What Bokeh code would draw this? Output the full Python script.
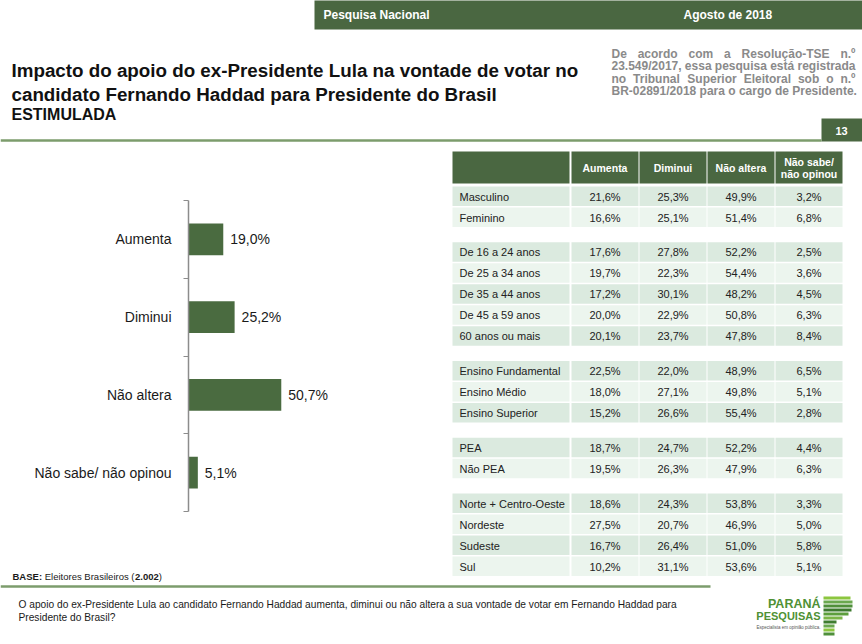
from bokeh.plotting import figure
from bokeh.layouts import column, row
from bokeh.models import Range1d, FixedTicker
from bokeh.core.properties import value
from bokeh.embed import file_html
from bokeh.resources import INLINE

# ---------------- data ----------------
header_left = "Pesquisa Nacional"
header_right = "Agosto de 2018"
title_lines = ["Impacto do apoio do ex-Presidente Lula na vontade de votar no",
               "candidato Fernando Haddad para Presidente do Brasil"]
subtitle = "ESTIMULADA"
note_lines = ["De acordo com a Resolução-TSE n.º",
              "23.549/2017, essa pesquisa está registrada",
              "no Tribunal Superior Eleitoral sob o n.º",
              "BR-02891/2018 para o cargo de Presidente."]
page_number = "13"

bar_categories = ["Aumenta", "Diminui", "Não altera", "Não sabe/ não opinou"]
bar_values = [19.0, 25.2, 50.7, 5.1]

table_headers = ["Aumenta", "Diminui", "Não altera", "Não sabe/\nnão opinou"]
segments = ["Masculino", "Feminino",
            "De 16 a 24 anos", "De 25 a 34 anos", "De 35 a 44 anos", "De 45 a 59 anos", "60 anos ou mais",
            "Ensino Fundamental", "Ensino Médio", "Ensino Superior",
            "PEA", "Não PEA",
            "Norte + Centro-Oeste", "Nordeste", "Sudeste", "Sul"]
segment_group = [0, 0, 1, 1, 1, 1, 1, 2, 2, 2, 3, 3, 4, 4, 4, 4]
aumenta = [21.6, 16.6, 17.6, 19.7, 17.2, 20.0, 20.1, 22.5, 18.0, 15.2, 18.7, 19.5, 18.6, 27.5, 16.7, 10.2]
diminui = [25.3, 25.1, 27.8, 22.3, 30.1, 22.9, 23.7, 22.0, 27.1, 26.6, 24.7, 26.3, 24.3, 20.7, 26.4, 31.1]
nao_altera = [49.9, 51.4, 52.2, 54.4, 48.2, 50.8, 47.8, 48.9, 49.8, 55.4, 52.2, 47.9, 53.8, 46.9, 51.0, 53.6]
nao_sabe = [3.2, 6.8, 2.5, 3.6, 4.5, 6.3, 8.4, 6.5, 5.1, 2.8, 4.4, 6.3, 3.3, 5.0, 5.8, 5.1]

base_label = "BASE:"
base_text = "Eleitores Brasileiros ("
base_n = "2.002"
base_close = ")"
question_lines = ["O apoio do ex-Presidente Lula ao candidato Fernando Haddad aumenta, diminui ou não altera a sua vontade de votar em Fernando Haddad para",
                  "Presidente do Brasil?"]
logo_lines = ["PARANÁ", "PESQUISAS"]
logo_tagline = "Especialista em opinião pública."

# ---------------- style ----------------
FONT = "Liberation Sans"
GREEN = "#4a6741"
BAR_GREEN = "#4a6b40"
LINE_GREEN = "#7c9c6c"
ROW_DARK = "#dbeadf"
ROW_LIGHT = "#ecf5ee"
TXT = "#1a1a1a"


def pct(v):
    return f"{v:.1f}%".replace(".", ",")


BOLD = {' ': 278, '(': 333, ')': 333, ',': 278, '-': 333, '.': 278, '/': 278, ':': 333, 'º': 365}
for d in "0123456789":
    BOLD[d] = 556
BOLD.update(dict(A=722, B=722, D=722, E=667, I=278, L=611, M=833, N=722, P=667, R=722, S=667, T=611,
                 U=722, a=556, b=611, c=556, d=611, e=556, g=611, i=278, l=278, m=889, n=611, o=611,
                 p=611, q=611, r=389, s=556, t=333, u=611, v=556, x=556))
BOLD.update({'ã': 556, 'á': 556, 'ç': 556})


def bold_width(s, size):
    return sum(BOLD.get(ch, 556) for ch in s) * size / 1000.0


def make_fig(w, h, x0, x1, y0, y1):
    p = figure(width=w, height=h, x_range=Range1d(x0, x1), y_range=Range1d(y1, y0),
               x_axis_type=None, y_axis_type=None, toolbar_location=None,
               output_backend="svg", min_border=0, outline_line_color=None)
    p.background_fill_color = "white"
    p.border_fill_color = "white"
    return p


def txt(p, xs, ys, texts, size, bold=False, color=TXT, align="left", baseline="middle", font=FONT):
    p.text(x=xs, y=ys, text=texts, text_font=value(font), text_font_size=f"{size}px",
           text_font_style="bold" if bold else "normal", text_color=color,
           text_align=align, text_baseline=baseline)


# ---------------- top section (page y 0..148) ----------------
top = make_fig(862, 148, 0, 862, 0, 148)
top.quad(left=[314], right=[870], top=[-5], bottom=[29], fill_color=GREEN, line_color=None)
txt(top, [323], [14], [header_left], 12, bold=True, color="white")
txt(top, [683], [14], [header_right], 12, bold=True, color="white")

txt(top, [11, 11], [70, 94], title_lines, 18.8, bold=True, color="#111111")
txt(top, [11], [114], [subtitle], 16, bold=True, color="#111111")

# justified note
NX0, NX1, NSIZE = 611, 855, 12
nxs, nys, nts = [], [], []
for li, line in enumerate(note_lines):
    words = line.split(" ")
    y = 53 + li * 12.5
    if li < len(note_lines) - 1 and len(words) > 1:
        tot = sum(bold_width(w_, NSIZE) for w_ in words)
        gap = (NX1 - NX0 - tot) / (len(words) - 1)
        x = NX0
        for w_ in words:
            nxs.append(x); nys.append(y); nts.append(w_)
            x += bold_width(w_, NSIZE) + gap
    else:
        nxs.append(NX0); nys.append(y); nts.append(line)
txt(top, nxs, nys, nts, NSIZE, bold=True, color="#8a8a8a")

top.quad(left=[821], right=[870], top=[118], bottom=[141], fill_color=GREEN, line_color=None)
txt(top, [841], [130], [page_number], 11, bold=True, color="white", align="center")
top.segment(x0=[0], y0=[140], x1=[821], y1=[140], line_color=LINE_GREEN, line_width=2.5)

# ---------------- bar chart (page x 0..440, y 148..584) ----------------
MID_TOP, MID_BOTTOM, LEFT_W = 148, 584, 440
AX_X, AX_TOP, AX_BOTTOM = 188, 200, 511          # axis position in page pixels
PX_PER_PCT = 1.83
n_cat = len(bar_categories)
PX_PER_CAT = (AX_BOTTOM - AX_TOP) / n_cat
x_lo = -AX_X / PX_PER_PCT
x_hi = (LEFT_W - AX_X) / PX_PER_PCT
cat_top = 0.5 - (AX_TOP - MID_TOP) / PX_PER_CAT
cat_bottom = n_cat + 0.5 + (MID_BOTTOM - AX_BOTTOM) / PX_PER_CAT

ys = list(range(1, n_cat + 1))
bar_fig = figure(width=LEFT_W, height=MID_BOTTOM - MID_TOP,
                 x_range=Range1d(x_lo, x_hi), y_range=Range1d(cat_bottom, cat_top),
                 x_axis_type=None, toolbar_location=None, output_backend="svg",
                 min_border=0, outline_line_color=None)
bar_fig.grid.visible = False
bar_fig.background_fill_color = "white"
bar_fig.border_fill_color = "white"
bar_fig.hbar(y=ys, left=0, right=bar_values, height=0.41, fill_color=BAR_GREEN, line_color=None)
bar_fig.text(x=bar_values, y=ys, text=[pct(v) for v in bar_values], x_offset=7,
             text_font=value(FONT), text_font_size="14px", text_color=TXT,
             text_align="left", text_baseline="middle")
yax = bar_fig.yaxis[0]
yax.fixed_location = 0
yax.bounds = (0.5, n_cat + 0.5)
yax.ticker = FixedTicker(ticks=ys, minor_ticks=[y - 0.5 for y in ys] + [ys[-1] + 0.5])
yax.major_label_overrides = {y: c for y, c in zip(ys, bar_categories)}
yax.major_tick_line_color = None
yax.major_tick_in = 0
yax.major_tick_out = 0
yax.minor_tick_line_color = "#8c8c8c"
yax.minor_tick_in = 0
yax.minor_tick_out = 5
yax.axis_line_color = "#8c8c8c"
yax.axis_line_width = 1.5
yax.major_label_standoff = 12
yax.major_label_text_font = FONT
yax.major_label_text_font_size = "14px"
yax.major_label_text_color = TXT


def to_data(px, py):
    return x_lo + px / PX_PER_PCT, cat_top + (py - MID_TOP) / PX_PER_CAT


BASE_Y = 576
BASE_SIZE = 9.5
JOIN_X = 134       # where "(" ends and the bold count starts
for px, t, b, al in [(12, base_label, True, "left"),
                     (JOIN_X, base_text, False, "right"),
                     (JOIN_X + 0.5, base_n, True, "left"),
                     (JOIN_X + 0.5 + bold_width(base_n, BASE_SIZE), base_close, False, "left")]:
    dx, dy = to_data(px, BASE_Y)
    txt(bar_fig, [dx], [dy], [t], BASE_SIZE, bold=b, align=al)

# ---------------- table (page x 440..862, y 148..584) ----------------
tab = make_fig(862 - LEFT_W, MID_BOTTOM - MID_TOP, LEFT_W, 862, MID_TOP, MID_BOTTOM)
col_l = [452, 571, 639, 707, 775]
col_r = [569, 638, 706, 774, 842]
tab.quad(left=col_l, right=col_r, top=[151] * 5, bottom=[183] * 5, fill_color=GREEN, line_color=None)
hx, hy, ht = [], [], []
for i, h in enumerate(table_headers):
    cx = (col_l[i + 1] + col_r[i + 1]) / 2
    parts = h.split("\n")
    for k, part in enumerate(parts):
        hx.append(cx)
        hy.append(167 + (k - (len(parts) - 1) / 2) * 12)
        ht.append(part)
txt(tab, hx, hy, ht, 10.5, bold=True, color="white", align="center")

ql, qr, qt, qb, qc = [], [], [], [], []
lx, ly, lt = [], [], []
vx, vy, vt = [], [], []
prev_g, k_in_group = -1, 0
for r, seg in enumerate(segments):
    g = segment_group[r]
    k_in_group = k_in_group + 1 if g == prev_g else 0
    prev_g = g
    y_top = 186 + r * 21 + g * 13.75
    fill = ROW_DARK if k_in_group % 2 == 0 else ROW_LIGHT
    for c in range(5):
        ql.append(col_l[c]); qr.append(col_r[c]); qt.append(y_top); qb.append(y_top + 19.5); qc.append(fill)
    yc = y_top + 10
    lx.append(459); ly.append(yc); lt.append(seg)
    for c, series in enumerate([aumenta, diminui, nao_altera, nao_sabe]):
        vx.append((col_l[c + 1] + col_r[c + 1]) / 2); vy.append(yc); vt.append(pct(series[r]))
tab.quad(left=ql, right=qr, top=qt, bottom=qb, fill_color=qc, line_color=None)
txt(tab, lx, ly, lt, 11, color="#222222")
txt(tab, vx, vy, vt, 11, color="#222222", align="center")

# ---------------- bottom (page y 584..644) ----------------
bot = make_fig(862, 60, 0, 862, MID_BOTTOM, 644)
bot.segment(x0=[0], y0=[586], x1=[710], y1=[586], line_color=LINE_GREEN, line_width=2.5)
txt(bot, [18, 18], [604, 617], question_lines, 10.2, color=TXT)

# logo
stripe_top = [596, 600, 604, 608, 612, 616, 620, 624, 628, 632]
stripe_right = [850, 852, 852, 851, 848, 842, 836, 834, 834, 834]
stripe_col = ["#8cc63f", "#6aa84f", "#4f8f3a", "#3d7a2e", "#5c9e3c", "#7bb547", "#3f7d30", "#6aa84f", "#8cc63f", "#4f8f3a"]
bot.quad(left=[823] * 10, right=stripe_right, top=stripe_top, bottom=[t + 3 for t in stripe_top],
         fill_color=stripe_col, line_color=None)
txt(bot, [820], [603], [logo_lines[0]], 12.5, bold=True, color="#4f9134", align="right")
txt(bot, [820], [615], [logo_lines[1]], 11, bold=True, color="#4f9134", align="right")
txt(bot, [820], [627], [logo_tagline], 4.5, color="#555555", align="right")

layout = column(top, row(bar_fig, tab), bot)
open("out.html", "w").write(file_html(layout, INLINE))
